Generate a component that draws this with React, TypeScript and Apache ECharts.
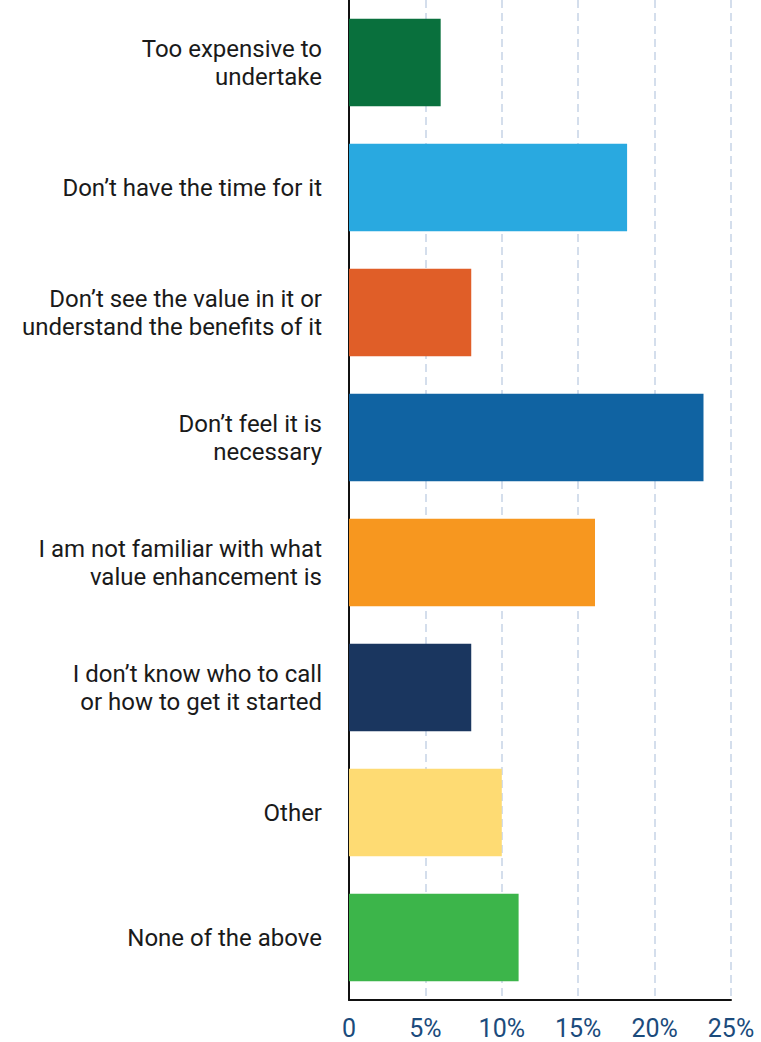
import React, { useEffect, useRef } from "react";
import * as echarts from "echarts";

const categories = [
  "Too expensive to\nundertake",
  "Don’t have the time for it",
  "Don’t see the value in it or\nunderstand the benefits of it",
  "Don’t feel it is\nnecessary",
  "I am not familiar with what\nvalue enhancement is",
  "I don’t know who to call\nor how to get it started",
  "Other",
  "None of the above",
];
const values = [6, 18.2, 8, 23.2, 16.1, 8, 10, 11.1];
const colors = ["#09703d", "#29a9e0", "#e05e28", "#1063a2", "#f7971f", "#1a365f", "#fedb73", "#3cb54a"];
const tickValues = [0, 5, 10, 15, 20, 25];

export default function App() {
  const ref = useRef<HTMLDivElement>(null);
  useEffect(() => {
    if (!ref.current) return;
    const chart = echarts.init(ref.current, null, { renderer: "svg" });
    chart.setOption({
      animation: false,
      grid: { left: 349, right: 30, top: -4, bottom: 42, containLabel: false },
      xAxis: {
        type: "value",
        min: tickValues[0],
        max: tickValues[tickValues.length - 1],
        interval: 5,
        axisLine: { show: true, lineStyle: { color: "#111", width: 2 } },
        axisTick: { show: false },
        axisLabel: {
          margin: 18,
          fontFamily: "Roboto",
          fontSize: 25,
          lineHeight: 20,
          color: "#1b4b7c",
          formatter: (v: number) => (v === 0 ? "0" : v + "%"),
        },
        splitLine: { show: true, lineStyle: { color: "#c6d4e6", width: 1.5, type: [8, 5] } },
      },
      yAxis: {
        type: "category",
        data: categories,
        inverse: true,
        axisLine: { show: true, lineStyle: { color: "#111", width: 2 } },
        axisTick: { show: false },
        axisLabel: {
          margin: 27,
          fontFamily: "Roboto",
          fontSize: 24,
          lineHeight: 28,
          color: "#1a1a1a",
          align: "right",
        },
      },
      series: [
        {
          type: "bar",
          barWidth: "70%",
          data: values.map((v, i) => ({ value: v, itemStyle: { color: colors[i] } })),
        },
      ],
    });
    return () => chart.dispose();
  }, []);
  return <div ref={ref} style={{ position: "absolute", left: 0, top: 0, width: 761, height: 1042 }} />;
}
